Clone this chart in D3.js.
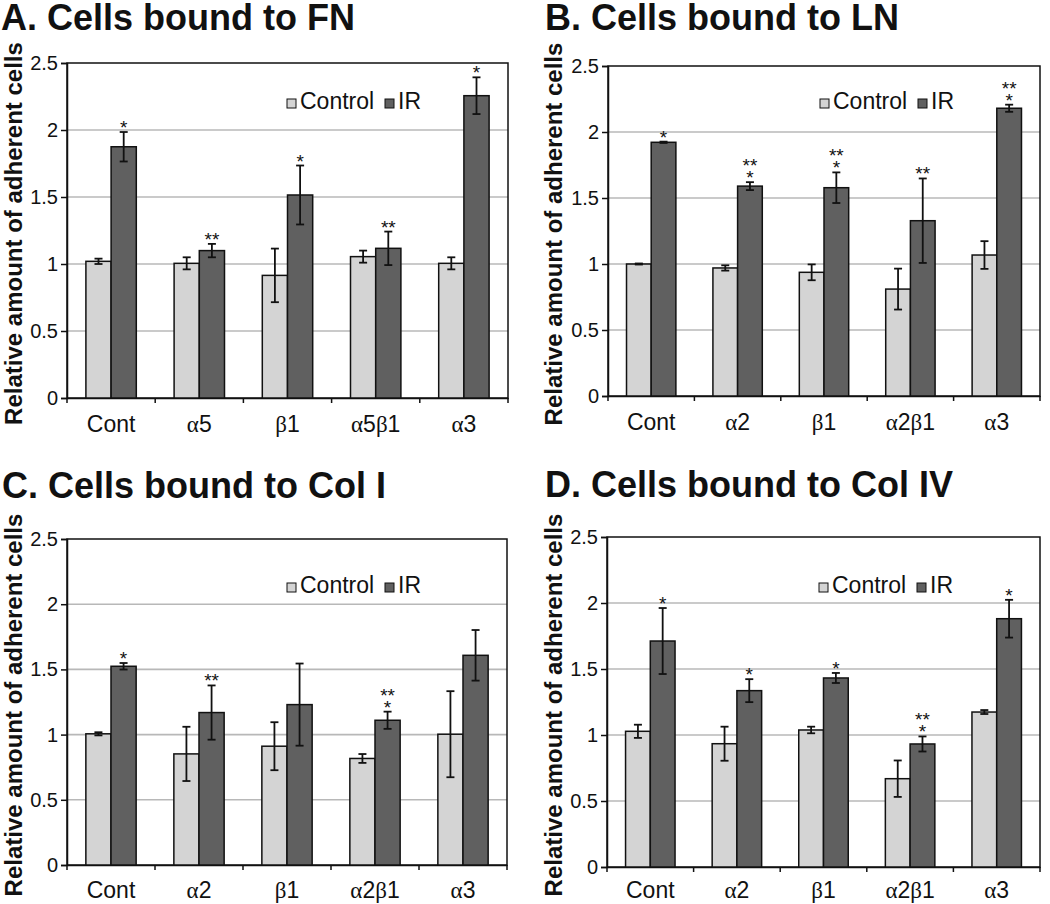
<!DOCTYPE html>
<html>
<head>
<meta charset="utf-8">
<script src="https://cdn.jsdelivr.net/npm/d3@7"></script>
<style>
  body { margin: 0; background: #fff; }
  text { font-family: "Liberation Sans", Arial, sans-serif; fill: #111; }
</style>
</head>
<body>
<div id="chart"></div>
<script>
// Data
const seriesNames = ["Control", "IR"];
const yTicks = [0, 0.5, 1, 1.5, 2, 2.5];
const yTickLabels = ["0", "0.5", "1", "1.5", "2", "2.5"];
const yLabel = "Relative amount of adherent cells";

// A. FN
const titleA = "A. Cells bound to FN";
const catsA = ["Cont", "α5", "β1", "α5β1", "α3"];
const controlA = [1.02, 1.005, 0.915, 1.055, 1.005];
const controlErrA = [0.02, 0.045, 0.2, 0.045, 0.045];
const irA = [1.875, 1.1, 1.515, 1.117, 2.256];
const irErrA = [0.11, 0.05, 0.22, 0.125, 0.137];
const sigA = [["*"], ["**"], ["*"], ["**"], ["*"]];

// B. LN
const titleB = "B. Cells bound to LN";
const catsB = ["Cont", "α2", "β1", "α2β1", "α3"];
const controlB = [1.0, 0.97, 0.937, 0.81, 1.068];
const controlErrB = [0.004, 0.02, 0.06, 0.155, 0.105];
const irB = [1.922, 1.59, 1.578, 1.328, 2.18];
const irErrB = [0.005, 0.03, 0.116, 0.32, 0.027];
const sigB = [["*"], ["**", "*"], ["**", "*"], ["**"], ["**", "*"]];

// C. Col I
const titleC = "C. Cells bound to Col I";
const catsC = ["Cont", "α2", "β1", "α2β1", "α3"];
const controlC = [1.006, 0.852, 0.911, 0.817, 1.003];
const controlErrC = [0.012, 0.208, 0.184, 0.034, 0.33];
const irC = [1.524, 1.169, 1.23, 1.11, 1.608];
const irErrC = [0.025, 0.208, 0.315, 0.066, 0.194];
const sigC = [["*"], ["**"], [], ["**", "*"], []];

// D. Col IV
const titleD = "D. Cells bound to Col IV";
const catsD = ["Cont", "α2", "β1", "α2β1", "α3"];
const controlD = [1.028, 0.934, 1.038, 0.669, 1.174];
const controlErrD = [0.05, 0.129, 0.025, 0.138, 0.015];
const irD = [1.712, 1.336, 1.432, 0.932, 1.881];
const irErrD = [0.25, 0.087, 0.038, 0.057, 0.143];
const sigD = [["*"], ["*"], ["*"], ["**", "*"], ["*"]];

const colors = { Control: "#d4d4d4", IR: "#606060" };

const svg = d3.select("#chart")
  .append("svg")
  .attr("width", 1050)
  .attr("height", 904);

svg.append("rect").attr("width", 1050).attr("height", 904).attr("fill", "#fff");

// layout of each panel (plot area in page pixels)
const panels = [
  { title: titleA, cats: catsA, ctrl: controlA, ctrlErr: controlErrA, ir: irA, irErr: irErrA, sig: sigA,
    left: 67, right: 508, top: 63, bottom: 398, titleX: 1, titleY: 30, labelX: 22, legDx: 220, legDy: 46, catDy: 34 },
  { title: titleB, cats: catsB, ctrl: controlB, ctrlErr: controlErrB, ir: irB, irErr: irErrB, sig: sigB,
    left: 608, right: 1040, top: 66, bottom: 396, titleX: 545, titleY: 30, labelX: 562, legDx: 212, legDy: 43, catDy: 34 },
  { title: titleC, cats: catsC, ctrl: controlC, ctrlErr: controlErrC, ir: irC, irErr: irErrC, sig: sigC,
    left: 67, right: 507, top: 539, bottom: 865, titleX: 2, titleY: 498, labelX: 22, legDx: 220, legDy: 54, catDy: 33 },
  { title: titleD, cats: catsD, ctrl: controlD, ctrlErr: controlErrD, ir: irD, irErr: irErrD, sig: sigD,
    left: 607, right: 1040, top: 537, bottom: 867, titleX: 545, titleY: 497, labelX: 562, legDx: 212, legDy: 56, catDy: 31 }
];

function drawLabel(sel, label) {
  // greek letters look like they come from a serif font
  const parts = label.match(/[αβ]|[^αβ]+/g);
  parts.forEach(function (p) {
    sel.append("tspan")
      .attr("font-family", /[αβ]/.test(p) ? "'Liberation Serif', 'Times New Roman', serif" : null)
      .text(p);
  });
}

panels.forEach(function (p) {
  const g = svg.append("g");

  const x0 = d3.scaleBand().domain(p.cats).range([p.left, p.right]);
  const x1 = d3.scaleBand().domain(seriesNames)
    .range([0, x0.bandwidth()]).paddingInner(0).paddingOuter(0.75);
  const y = d3.scaleLinear().domain([0, 2.5]).range([p.bottom, p.top]);

  // title
  g.append("text")
    .attr("x", p.titleX)
    .attr("y", p.titleY)
    .attr("font-size", 36)
    .attr("font-weight", "bold")
    .text(p.title);

  // gridlines
  g.selectAll(".grid")
    .data(yTicks.filter(function (d) { return d > 0 && d < 2.5; }))
    .join("line")
    .attr("x1", p.left).attr("x2", p.right)
    .attr("y1", function (d) { return y(d); })
    .attr("y2", function (d) { return y(d); })
    .attr("stroke", "#b8b8b8")
    .attr("stroke-width", 1.6);

  // plot frame
  g.append("rect")
    .attr("x", p.left).attr("y", p.top)
    .attr("width", p.right - p.left).attr("height", p.bottom - p.top)
    .attr("fill", "none")
    .attr("stroke", "#111")
    .attr("stroke-width", 1.5);

  // y axis
  const yAxis = d3.axisLeft(y)
    .tickValues(yTicks)
    .tickFormat(function (d, i) { return yTickLabels[i]; })
    .tickSize(6)
    .tickPadding(3);
  const ya = g.append("g")
    .attr("transform", "translate(" + p.left + ",0)")
    .call(yAxis);
  ya.select(".domain").attr("stroke", "#111").attr("stroke-width", 1.5);
  ya.selectAll(".tick line").attr("stroke", "#111").attr("stroke-width", 1.5);
  ya.selectAll(".tick text")
    .attr("font-size", 20)
    .attr("font-family", "'Liberation Sans', Arial, sans-serif")
    .attr("fill", "#111");

  // x axis with ticks between categories
  const xAxis = d3.axisBottom(x0).tickSize(0).tickPadding(0).tickFormat("");
  const xa = g.append("g")
    .attr("transform", "translate(0," + p.bottom + ")")
    .call(xAxis);
  xa.select(".domain").attr("stroke", "#111").attr("stroke-width", 1.5);
  const bounds = p.cats.map(function (c) { return x0(c); }).concat([x0.range()[1]]);
  xa.selectAll(".sep")
    .data(bounds)
    .join("line")
    .attr("x1", function (d) { return d; })
    .attr("x2", function (d) { return d; })
    .attr("y1", 0).attr("y2", 5)
    .attr("stroke", "#111")
    .attr("stroke-width", 1.5);

  g.selectAll(".cat")
    .data(p.cats)
    .join("text")
    .attr("x", function (d) { return x0(d) + x0.bandwidth() / 2; })
    .attr("y", p.bottom + p.catDy)
    .attr("text-anchor", "middle")
    .attr("font-size", 23)
    .each(function (d) { drawLabel(d3.select(this), d); });

  // y label
  g.append("text")
    .attr("transform", "translate(" + p.labelX + "," + ((p.top + p.bottom) / 2 + 3) + ") rotate(-90)")
    .attr("text-anchor", "middle")
    .attr("font-size", 24)
    .attr("font-weight", "bold")
    .text(yLabel);

  // bars
  const rows = p.cats.map(function (c, i) {
    return [
      { cat: c, s: "Control", v: p.ctrl[i], e: p.ctrlErr[i], sig: [] },
      { cat: c, s: "IR", v: p.ir[i], e: p.irErr[i], sig: p.sig[i] }
    ];
  }).flat();

  g.selectAll(".bar")
    .data(rows)
    .join("rect")
    .attr("x", function (d) { return x0(d.cat) + x1(d.s); })
    .attr("y", function (d) { return y(d.v); })
    .attr("width", x1.bandwidth())
    .attr("height", function (d) { return y(0) - y(d.v); })
    .attr("fill", function (d) { return colors[d.s]; })
    .attr("stroke", "#111")
    .attr("stroke-width", 1.5);

  // error bars
  const eb = g.selectAll(".err")
    .data(rows)
    .join("g")
    .attr("transform", function (d) {
      return "translate(" + (x0(d.cat) + x1(d.s) + x1.bandwidth() / 2) + ",0)";
    });
  eb.append("line")
    .attr("y1", function (d) { return y(d.v + d.e); })
    .attr("y2", function (d) { return y(d.v - d.e); })
    .attr("stroke", "#111").attr("stroke-width", 1.8);
  eb.append("line")
    .attr("x1", -4).attr("x2", 4)
    .attr("y1", function (d) { return y(d.v + d.e); })
    .attr("y2", function (d) { return y(d.v + d.e); })
    .attr("stroke", "#111").attr("stroke-width", 1.8);
  eb.append("line")
    .attr("x1", -4).attr("x2", 4)
    .attr("y1", function (d) { return y(d.v - d.e); })
    .attr("y2", function (d) { return y(d.v - d.e); })
    .attr("stroke", "#111").attr("stroke-width", 1.8);

  // significance marks, stacked upward from the error bar (one text, a tspan per line)
  eb.filter(function (d) { return d.sig.length > 0; })
    .append("text")
    .attr("text-anchor", "middle")
    .attr("font-size", 19)
    .each(function (d) {
      const n = d.sig.length;
      const base = y(d.v + d.e) + 2;
      d3.select(this).selectAll("tspan")
        .data(d.sig)
        .join("tspan")
        .attr("x", 0)
        .attr("y", function (s, i) { return base - (n - 1 - i) * 12; })
        .text(function (s) { return s; });
    });

  // legend
  const lx = p.left + p.legDx;
  const ly = p.top + p.legDy;
  const leg = g.selectAll(".leg")
    .data(seriesNames)
    .join("g")
    .attr("transform", function (d, i) { return "translate(" + (lx + i * 98) + "," + ly + ")"; });
  leg.append("rect")
    .attr("x", 0).attr("y", -10)
    .attr("width", 9).attr("height", 9)
    .attr("fill", function (d) { return colors[d]; })
    .attr("stroke", "#111")
    .attr("stroke-width", 1);
  leg.append("text")
    .attr("x", 13)
    .attr("y", 0)
    .attr("font-size", 23)
    .text(function (d) { return d; });
});
</script>
</body>
</html>
